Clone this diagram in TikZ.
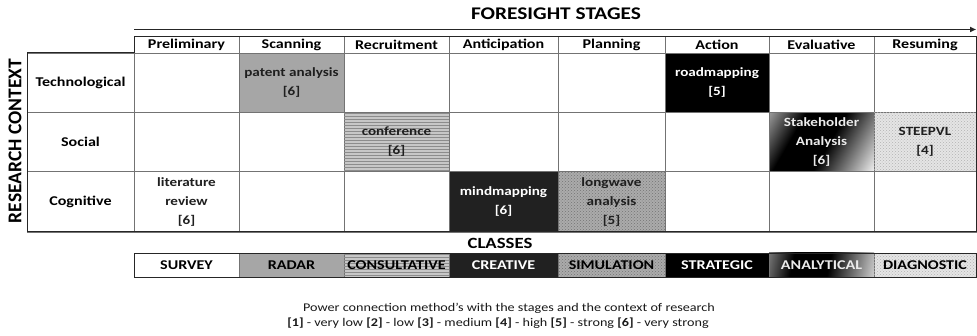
\documentclass[tikz,border=0pt]{standalone}
\usepackage{fontspec}
\setmainfont{Carlito}[FakeStretch=1.2]
\newfontfamily\plainfont{Carlito}
\usetikzlibrary{arrows.meta,patterns}
\pgfdeclarehorizontalshading{stkshade}{100bp}{color(0bp)=(black!40); color(16bp)=(black!40); color(34bp)=(black); color(54bp)=(black); color(86bp)=(white); color(100bp)=(white)}
\definecolor{gridc}{gray}{0.45}
\definecolor{txtc}{gray}{0.12}
\begin{document}
\begin{tikzpicture}[x=1pt,y=-1pt,
  cellbox/.style={draw=gridc, line width=0.7pt, inner sep=0pt, outer sep=0pt, align=center, text=txtc,
     font=\fontsize{12.6}{19}\selectfont\bfseries},
  headbox/.style={cellbox, font=\fontsize{13.4}{16}\selectfont\bfseries, text=black},
  rowbox/.style={cellbox, font=\fontsize{13.4}{16}\selectfont\bfseries, text=black},
  classbox/.style={cellbox, font=\fontsize{13.4}{16}\selectfont\bfseries, text=black, minimum height=24pt},
  cgray/.style={fill=black!35},
  clines/.style={fill=black!22, postaction={pattern=horizontal lines, pattern color=black!45}},
  cblack/.style={fill=black, text=white},
  cgrad/.style={shading=stkshade, shading angle=-30, text=black!8},
  cdots/.style={fill=black!10, postaction={pattern=crosshatch dots, pattern color=black!30}},
  cdark/.style={fill=black!87, text=white},
  cmdots/.style={fill=black!33, postaction={pattern=crosshatch dots, pattern color=black!55}},
  frame/.style={draw=black!85, line width=1pt},
]
\useasboundingbox[fill=white] (0,0) rectangle (977,336);

% title and arrow
\node[font=\fontsize{17.8}{20}\selectfont\bfseries] (title) at (556,14) {FORESIGHT STAGES};
\coordinate (arrS) at (134,29.5);
\coordinate (arrE) at (976,29.5);
\draw[line width=1.8pt, black!85, -{Triangle[length=6pt,width=5pt]}] (arrS) -- (arrE);

% vertical label
\node[rotate=90, font=\plainfont\fontsize{19.5}{22}\selectfont\bfseries] (rc) at (15,141) {RESEARCH CONTEXT};

% header row
\node[headbox, minimum width=105pt, minimum height=16.5pt] (h1) at (186.5,44.75) {Preliminary};
\node[headbox, minimum width=105pt, minimum height=16.5pt] (h2) at (291.5,44.75) {Scanning};
\node[headbox, minimum width=105pt, minimum height=16.5pt] (h3) at (396.5,44.75) {Recruitment};
\node[headbox, minimum width=109pt, minimum height=16.5pt] (h4) at (503.5,44.75) {Anticipation};
\node[headbox, minimum width=107pt, minimum height=16.5pt] (h5) at (611.5,44.75) {Planning};
\node[headbox, minimum width=104pt, minimum height=16.5pt] (h6) at (717,44.75) {Action};
\node[headbox, minimum width=105pt, minimum height=16.5pt] (h7) at (821.5,44.75) {Evaluative};
\node[headbox, minimum width=102pt, minimum height=16.5pt] (h8) at (925,44.75) {Resuming};

% row labels
\node[rowbox, minimum width=107pt, minimum height=59.5pt] (r1) at (80.5,82.75) {Technological};
\node[rowbox, minimum width=107pt, minimum height=59pt] (r2) at (80.5,142) {Social};
\node[rowbox, minimum width=107pt, minimum height=60.5pt] (r3) at (80.5,201.75) {Cognitive};

% technological row
\node[cellbox, minimum width=105pt, minimum height=59.5pt] (t1) at (186.5,82.75) {};
\node[cellbox, cgray, minimum width=105pt, minimum height=59.5pt] (t2) at (291.5,82.75) {patent analysis\\{[6]}};
\node[cellbox, minimum width=105pt, minimum height=59.5pt] (t3) at (396.5,82.75) {};
\node[cellbox, minimum width=109pt, minimum height=59.5pt] (t4) at (503.5,82.75) {};
\node[cellbox, minimum width=107pt, minimum height=59.5pt] (t5) at (611.5,82.75) {};
\node[cellbox, cblack, minimum width=104pt, minimum height=59.5pt] (t6) at (717,82.75) {roadmapping\\{[5]}};
\node[cellbox, minimum width=105pt, minimum height=59.5pt] (t7) at (821.5,82.75) {};
\node[cellbox, minimum width=102pt, minimum height=59.5pt] (t8) at (925,82.75) {};

% social row
\node[cellbox, minimum width=105pt, minimum height=59pt] (s1) at (186.5,142) {};
\node[cellbox, minimum width=105pt, minimum height=59pt] (s2) at (291.5,142) {};
\node[cellbox, clines, minimum width=105pt, minimum height=59pt] (s3) at (396.5,142) {conference\\{[6]}};
\node[cellbox, minimum width=109pt, minimum height=59pt] (s4) at (503.5,142) {};
\node[cellbox, minimum width=107pt, minimum height=59pt] (s5) at (611.5,142) {};
\node[cellbox, minimum width=104pt, minimum height=59pt] (s6) at (717,142) {};
\node[cellbox, cgrad, minimum width=105pt, minimum height=59pt] (s7) at (821.5,142) {Stakeholder\\Analysis\\{[6]}};
\node[cellbox, cdots, minimum width=102pt, minimum height=59pt] (s8) at (925,142) {STEEPVL\\{[4]}};

% cognitive row
\node[cellbox, minimum width=105pt, minimum height=60.5pt] (c1) at (186.5,201.75) {literature\\review\\{[6]}};
\node[cellbox, minimum width=105pt, minimum height=60.5pt] (c2) at (291.5,201.75) {};
\node[cellbox, minimum width=105pt, minimum height=60.5pt] (c3) at (396.5,201.75) {};
\node[cellbox, cdark, minimum width=109pt, minimum height=60.5pt] (c4) at (503.5,201.75) {mindmapping\\{[6]}};
\node[cellbox, cmdots, minimum width=107pt, minimum height=60.5pt] (c5) at (611.5,201.75) {longwave\\analysis\\{[5]}};
\node[cellbox, minimum width=104pt, minimum height=60.5pt] (c6) at (717,201.75) {};
\node[cellbox, minimum width=105pt, minimum height=60.5pt] (c7) at (821.5,201.75) {};
\node[cellbox, minimum width=102pt, minimum height=60.5pt] (c8) at (925,201.75) {};

% outer frame
\draw[frame] (r1.north west) -- (r1.north east) -- (h1.north west) -- (h8.north east) -- (c8.south east) -- (r3.south west) -- cycle;

% classes
\node[font=\fontsize{15.6}{18}\selectfont\bfseries] (classes) at (500,243) {CLASSES};
\node[classbox, minimum width=105pt] (k1) at (186.5,265) {SURVEY};
\node[classbox, cgray, minimum width=105pt] (k2) at (291.5,265) {RADAR};
\node[classbox, clines, minimum width=105pt] (k3) at (396.5,265) {CONSULTATIVE};
\node[classbox, cdark, minimum width=109pt] (k4) at (503.5,265) {CREATIVE};
\node[classbox, cmdots, minimum width=107pt] (k5) at (611.5,265) {SIMULATION};
\node[classbox, cblack, minimum width=104pt] (k6) at (717,265) {STRATEGIC};
\node[classbox, cgrad, shading angle=-12, minimum width=105pt] (k7) at (821.5,265) {ANALYTICAL};
\node[classbox, cdots, minimum width=102pt] (k8) at (925,265) {DIAGNOSTIC};
\draw[frame, line width=0.8pt] (k1.north west) rectangle (k8.south east);

% legend
\node[font=\fontsize{11.8}{14}\selectfont, text=black!90] (leg1) at (509,308) {Power connection method's with the stages and the context of research};
\node[font=\fontsize{11.8}{14}\selectfont, text=black!90] (leg2) at (498,323) {\textbf{[1]} - very low \textbf{[2]} - low \textbf{[3]} - medium \textbf{[4]} - high \textbf{[5]} - strong \textbf{[6]} - very strong};
\end{tikzpicture}
\end{document}
